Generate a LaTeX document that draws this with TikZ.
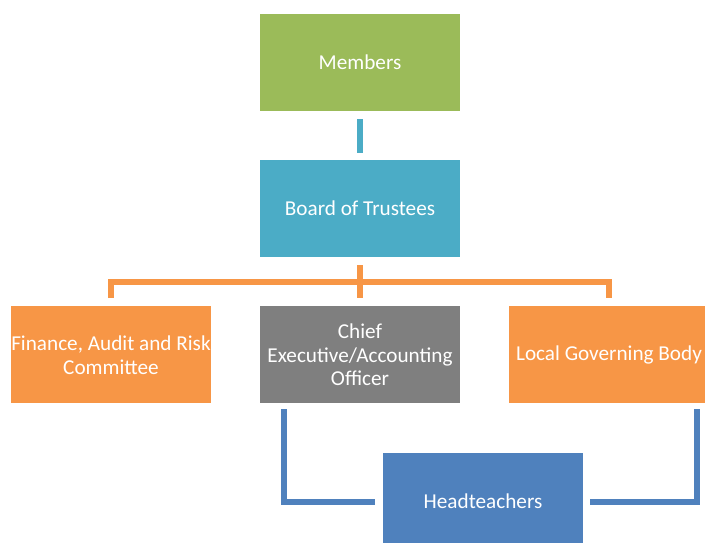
\documentclass[tikz,border=0pt]{standalone}
\usepackage{fontspec}
\setmainfont{Carlito}
\usetikzlibrary{calc}

\definecolor{memgreen}{HTML}{9BBB59}
\definecolor{trteal}{HTML}{4BACC6}
\definecolor{comorange}{HTML}{F79646}
\definecolor{ceogrey}{HTML}{7F7F7F}
\definecolor{htblue}{HTML}{4F81BD}

\tikzset{
    box/.style = {rectangle, minimum width=150pt, minimum height=72.75pt,
        inner sep=0pt, align=center, text=white,
        font=\fontsize{15.9}{17.6}\selectfont},
    link/.style = {line width=4.5pt}
}

\begin{document}
\begin{tikzpicture}[x=0.75pt, y=0.75pt]
    \useasboundingbox (0,0) rectangle (705,542);

    \node[box, fill=memgreen]  (mem)   at (360,479.5) {Members};
    \node[box, fill=trteal]    (board) at (360,333.5) {Board of Trustees};
    \node[box, fill=comorange] (fin)   at (111,187)   {Finance, Audit and Risk\\Committee};
    \node[box, fill=ceogrey]   (chief) at (360,187)   {Chief\\Executive/Accounting\\Officer};
    \node[box, fill=comorange] (lgb)   at (609,187)   {Local Governing Body};
    \node[box, fill=htblue]    (head)  at (483,40.5)  {Headteachers};

    \coordinate (bus) at ($(board.south)!0.5!(chief.north)$);

    \draw[link, trteal]
    ([yshift=-6]mem.south) -- ([yshift=5]board.north);
    \draw[link, comorange]
    ([yshift=-6]board.south) -- ([yshift=6]chief.north)
    ([yshift=6]fin.north) |- (bus) -| ([yshift=6]lgb.north);
    \draw[link, htblue]
    ([xshift=18,yshift=-4]chief.south west) |- ([xshift=-6]head.west)
    ([xshift=-9.5,yshift=-4]lgb.south east) |- ([xshift=5]head.east);
\end{tikzpicture}
\end{document}
